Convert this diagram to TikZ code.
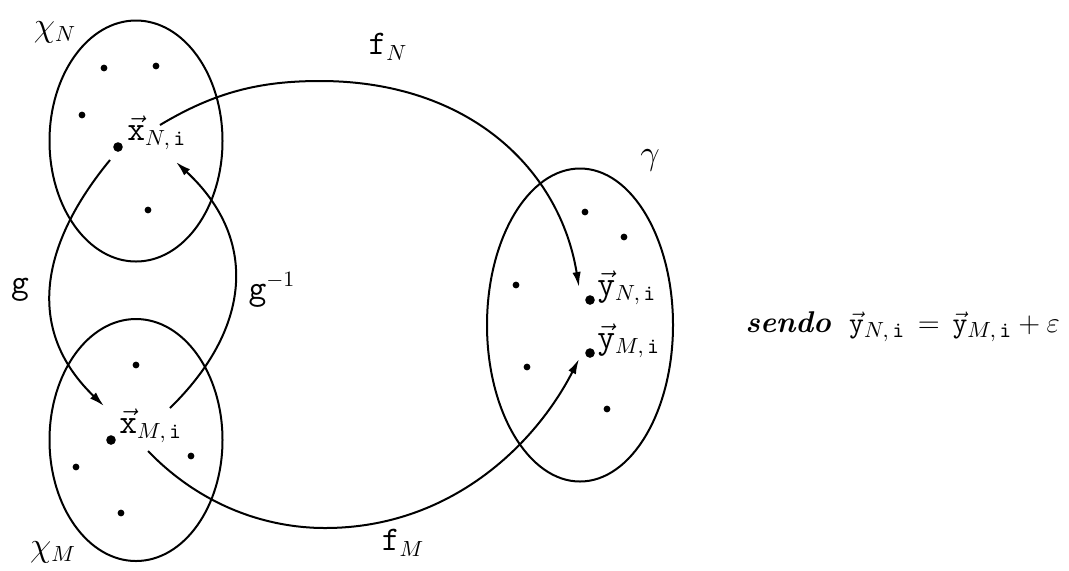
\documentclass[tikz,border=0pt]{standalone}
\usepackage{amsmath,amssymb}
\usetikzlibrary{arrows.meta,shapes.geometric}

\begin{document}
\begin{tikzpicture}[x=0.5pt,y=-0.5pt,
    set/.style={ellipse,draw,line width=1pt,inner sep=0pt},
    pt/.style={circle,fill,inner sep=0pt,minimum size=3.4pt},
    bigpt/.style={circle,fill,inner sep=0pt,minimum size=4.8pt},
    arr/.style={-{Latex[length=7.5pt,width=4.2pt]},line width=1pt},
    lbl/.style={font=\fontsize{16}{18}\selectfont,inner sep=0pt},
]
\useasboundingbox (0,0) rectangle (1069,570);

% the three sets
\node[set,minimum width=86.5pt,minimum height=120.5pt] (XN) at (136,141) {};
\node[set,minimum width=86.5pt,minimum height=121pt] (XM) at (136,440) {};
\node[set,minimum width=93pt,minimum height=156.5pt] (Y) at (580,325) {};
\node[lbl] (lXN) at (55,32) {$\chi_N$};
\node[lbl] (lXM) at (53,552) {$\chi_M$};
\node[lbl] (lY) at (650,160) {$\gamma$};

% points of X_N
\node[pt] (n1) at (104,68) {};
\node[pt] (n2) at (156,66) {};
\node[pt] (n3) at (82,115) {};
\node[pt] (n4) at (148,210) {};
\node[bigpt] (xN) at (118,147) {};
\node[lbl,anchor=base west] (lxN) at (127,140) {$\vec{\mathtt{x}}_{N,\,\mathtt{i}}$};

% points of X_M
\node[pt] (m1) at (136,365) {};
\node[pt] (m2) at (76,467) {};
\node[pt] (m3) at (191,456) {};
\node[pt] (m4) at (121,513) {};
\node[bigpt] (xM) at (111,440) {};
\node[lbl,anchor=base west] (lxM) at (119,433) {$\vec{\mathtt{x}}_{M,\,\mathtt{i}}$};

% points of Y
\node[pt] (y1) at (585,212) {};
\node[pt] (y2) at (624,237) {};
\node[pt] (y3) at (516,285) {};
\node[pt] (y4) at (527,367) {};
\node[pt] (y5) at (607,409) {};
\node[bigpt] (yN) at (590,300) {};
\node[bigpt] (yM) at (590,353) {};
\node[lbl,anchor=base west] (lyN) at (597,295) {$\vec{\mathtt{y}}_{N,\,\mathtt{i}}$};
\node[lbl,anchor=base west] (lyM) at (597,348) {$\vec{\mathtt{y}}_{M,\,\mathtt{i}}$};

% ends of the maps
\coordinate (gs) at (110,160);
\coordinate (ge) at (104,406);
\coordinate (hs) at (170,408);
\coordinate (he) at (176,162);
\coordinate (fns) at (160,125);
\coordinate (fnt) at (320,81);
\coordinate (fne) at (579,287);
\coordinate (fms) at (148,451);
\coordinate (fmb) at (325,528);
\coordinate (fme) at (579,359);

\draw[arr] (gs) .. controls (40,245) and (25,330) .. (ge);
\draw[arr] (hs) .. controls (250,330) and (260,240) .. (he);
\draw[arr] (fns) .. controls (215,92) and (260,81) .. (fnt)
    .. controls (470,81) and (560,170) .. (fne);
\draw[arr] (fms) .. controls (200,505) and (265,528) .. (fmb)
    .. controls (450,528) and (535,445) .. (fme);

\node[lbl] (lg) at (20,290) {$\mathtt{g}$};
\node[lbl] (lh) at (272,290) {$\mathtt{g}^{-1}$};
\node[lbl] (lfN) at (388,47) {$\mathtt{f}_N$};
\node[lbl] (lfM) at (403,543) {$\mathtt{f}_M$};

\node[lbl,font=\fontsize{15}{18}\selectfont,anchor=base west] (eq) at (745,332)
  {\textbf{\textit{sendo}}\ \ $\vec{\mathtt{y}}_{N,\,\mathtt{i}}\,=\,\vec{\mathtt{y}}_{M,\,\mathtt{i}}+\varepsilon$};
\end{tikzpicture}
\end{document}
